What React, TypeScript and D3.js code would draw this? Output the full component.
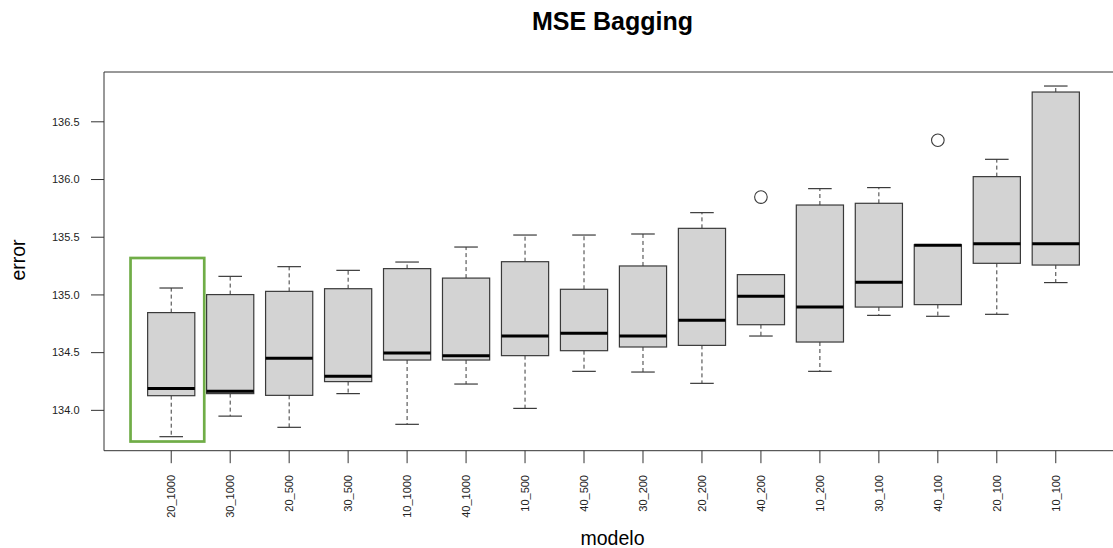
import React from "react";
import * as d3 from "d3";

const models = ["20_1000","30_1000","20_500","30_500","10_1000","40_1000","10_500","40_500","30_200","20_200","40_200","10_200","30_100","40_100","20_100","10_100"];
const lowerWhisker = [133.772,133.95,133.853,134.145,133.879,134.228,134.017,134.338,134.332,134.234,134.644,134.338,134.823,134.815,134.832,135.107];
const q1 = [134.127,134.145,134.13,134.249,134.436,134.436,134.474,134.517,134.549,134.563,134.742,134.592,134.895,134.916,135.274,135.259];
const median = [134.19,134.165,134.451,134.295,134.497,134.474,134.644,134.667,134.644,134.78,134.988,134.895,135.109,135.43,135.444,135.444];
const q3 = [134.847,135.003,135.031,135.054,135.228,135.146,135.288,135.049,135.251,135.577,135.176,135.779,135.794,135.435,136.025,136.758];
const upperWhisker = [135.06,135.161,135.245,135.213,135.285,135.415,135.519,135.519,135.528,135.713,135.176,135.921,135.93,135.435,136.175,136.81];
const outlierModels = ["40_200","40_100"];
const outlierValues = [135.848,136.34];
const yTicks = [134.0,134.5,135.0,135.5,136.0,136.5];
// highlight annotation around first model, in data units
const highlightX = [0.31, 1.56];
const highlightY = [133.73, 135.32];

const W = 1113, H = 548;
const plotLeft = 104, plotRight = 1123, plotTop = 72, plotBottom = 450.7;

export default function App() {
  const n = models.length;
  const xr = [0.5, n + 0.5];
  const xpad = (xr[1] - xr[0]) * 0.04;
  const x = d3.scaleLinear().domain([xr[0] - xpad, xr[1] + xpad]).range([plotLeft, plotRight]);
  const allVals = [...lowerWhisker, ...upperWhisker, ...outlierValues];
  const ymin = d3.min(allVals)!, ymax = d3.max(allVals)!;
  const ypad = (ymax - ymin) * 0.04;
  const y = d3.scaleLinear().domain([ymin - ypad, ymax + ypad]).range([plotBottom, plotTop]);
  const bw = 0.4; // half box width in units
  const cw = 0.2; // half cap width
  const font = "'Liberation Sans', Arial, sans-serif";
  const stroke = "#3a3a3a";

  return (
    <svg width={W} height={H} style={{ position: "absolute", left: 0, top: 0, background: "#fff" }} fontFamily={font}>
      <rect x={0} y={0} width={W} height={H} fill="#fff" />
      <text x={612.5} y={30} textAnchor="middle" fontSize={25} fontWeight="bold" fill="#000">MSE Bagging</text>

      {/* boxes */}
      {models.map((m, i) => {
        const cx = x(i + 1);
        return (
          <g key={m}>
            <line x1={cx} x2={cx} y1={y(q3[i])} y2={y(upperWhisker[i])} stroke={stroke} strokeWidth={1} strokeDasharray="4,3" />
            <line x1={cx} x2={cx} y1={y(q1[i])} y2={y(lowerWhisker[i])} stroke={stroke} strokeWidth={1} strokeDasharray="4,3" />
            <line x1={x(i + 1 - cw)} x2={x(i + 1 + cw)} y1={y(upperWhisker[i])} y2={y(upperWhisker[i])} stroke={stroke} strokeWidth={1.2} />
            <line x1={x(i + 1 - cw)} x2={x(i + 1 + cw)} y1={y(lowerWhisker[i])} y2={y(lowerWhisker[i])} stroke={stroke} strokeWidth={1.2} />
            <rect x={x(i + 1 - bw)} width={x(i + 1 + bw) - x(i + 1 - bw)} y={y(q3[i])} height={y(q1[i]) - y(q3[i])} fill="#d3d3d3" stroke={stroke} strokeWidth={1.2} />
            <line x1={x(i + 1 - bw)} x2={x(i + 1 + bw)} y1={y(median[i])} y2={y(median[i])} stroke="#000" strokeWidth={3} />
          </g>
        );
      })}
      {outlierModels.map((m, j) => (
        <circle key={m} cx={x(models.indexOf(m) + 1)} cy={y(outlierValues[j])} r={6.3} fill="none" stroke={stroke} strokeWidth={1.1} />
      ))}

      {/* frame */}
      <line x1={plotLeft} x2={W} y1={plotTop} y2={plotTop} stroke="#333" strokeWidth={1} />
      <line x1={plotLeft} x2={W} y1={plotBottom} y2={plotBottom} stroke="#333" strokeWidth={1} />
      <line x1={plotLeft} x2={plotLeft} y1={plotTop} y2={plotBottom} stroke="#333" strokeWidth={1} />

      {/* y axis */}
      {yTicks.map((t) => (
        <g key={t}>
          <line x1={plotLeft - 13} x2={plotLeft} y1={y(t)} y2={y(t)} stroke="#333" strokeWidth={1} />
          <text x={79.5} y={y(t)} dy="0.35em" textAnchor="end" fontSize={11} fill="#222">{t.toFixed(1)}</text>
        </g>
      ))}
      <text transform={`translate(25,260) rotate(-90)`} textAnchor="middle" fontSize={19.5} fill="#000">error</text>

      {/* x axis */}
      {models.map((m, i) => (
        <g key={m}>
          <line x1={x(i + 1)} x2={x(i + 1)} y1={plotBottom} y2={plotBottom + 12.5} stroke="#333" strokeWidth={1} />
          <text transform={`translate(${x(i + 1)},${475}) rotate(-90)`} textAnchor="end" dy="0.35em" fontSize={11} fill="#222">{m}</text>
        </g>
      ))}
      <text x={612.5} y={545} textAnchor="middle" fontSize={19.5} fill="#000">modelo</text>

      {/* highlight annotation */}
      <rect x={x(highlightX[0])} y={y(highlightY[1])} width={x(highlightX[1]) - x(highlightX[0])} height={y(highlightY[0]) - y(highlightY[1])} fill="none" stroke="#70ad47" strokeWidth={2.7} />
    </svg>
  );
}
